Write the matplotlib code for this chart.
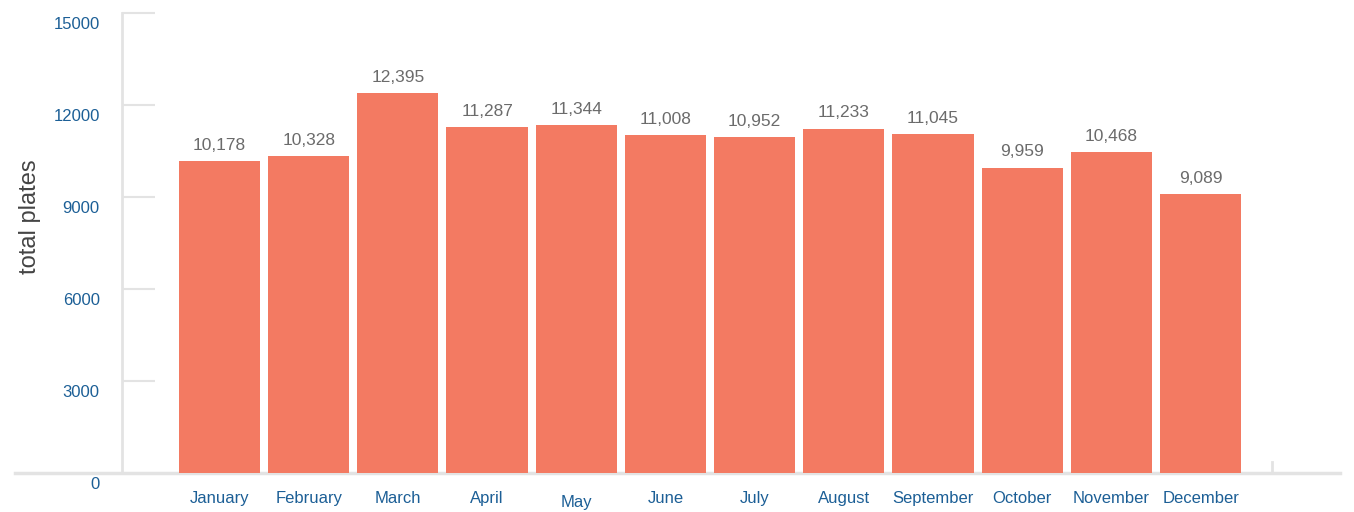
import matplotlib
matplotlib.use("Agg")
import matplotlib.pyplot as plt
import matplotlib.transforms as mtransforms
from matplotlib import font_manager

months = ["January", "February", "March", "April", "May", "June", "July",
          "August", "September", "October", "November", "December"]
plates = [10178, 10328, 12395, 11287, 11344, 11008, 10952, 11233, 11045, 9959, 10468, 9089]
yticks = [0, 3000, 6000, 9000, 12000, 15000]

names = {f.name for f in font_manager.fontManager.ttflist}
family = ["Liberation Sans Narrow", "DejaVu Sans"] if "Liberation Sans Narrow" in names else ["Liberation Sans", "DejaVu Sans"]
print(family)
plt.rcParams["font.family"] = family

BAR = "#f37a62"
BLUE = "#1c5f96"
GRID = "#e3e3e3"

W, H = 1354, 512
fig = plt.figure(figsize=(W / 100, H / 100), dpi=100)
ax = fig.add_axes([122 / W, 1 - 473 / H, (1272 - 122) / W, (473 - 13) / H])

x = list(range(len(months)))
ax.bar(x, plates, width=0.91, color=BAR, zorder=2)
for xi, v in zip(x, plates):
    ax.annotate(f"{v:,}", (xi, v), xytext=(0, 6), textcoords="offset points",
                ha="center", va="bottom", fontsize=12.5, color="#6b6b6b")

ax.set_xlim(-1.093, 11.8)
ax.set_ylim(0, 15000)

for s in ["top", "right", "bottom"]:
    ax.spines[s].set_visible(False)
ax.spines["left"].set_color(GRID)
ax.spines["left"].set_linewidth(2)

# baseline extends past the axes on both sides
ax.axhline(0, xmin=-0.093, xmax=1.059, color=GRID, lw=2.5, clip_on=False, zorder=1)
ax.axvline(11.8, ymin=0, ymax=11 / 460, color=GRID, lw=2, clip_on=False)

ax.set_yticks(yticks)
ax.set_yticklabels([str(t) for t in yticks])
ax.tick_params(axis="y", direction="in", length=24, width=1.5, color=GRID,
               pad=16, labelsize=12, labelcolor=BLUE)
down = mtransforms.ScaledTranslation(0, -10 / 100, fig.dpi_scale_trans)
for lab in ax.get_yticklabels():
    lab.set_transform(lab.get_transform() + down)
for t in ax.yaxis.get_major_ticks():
    if t.get_loc() == 0:
        t.tick1line.set_visible(False)

ax.set_xticks(x)
ax.set_xticklabels(months)
ax.tick_params(axis="x", length=0, pad=13, labelsize=12, labelcolor=BLUE)
may = ax.get_xticklabels()[4]
may.set_transform(may.get_transform() + mtransforms.ScaledTranslation(0, -4 / 100, fig.dpi_scale_trans))

fig.text(30 / W, 1 - 217 / H, "total plates", rotation=90, ha="center", va="center",
         fontsize=17, color="#444444")

fig.savefig("out.png", dpi=100)
